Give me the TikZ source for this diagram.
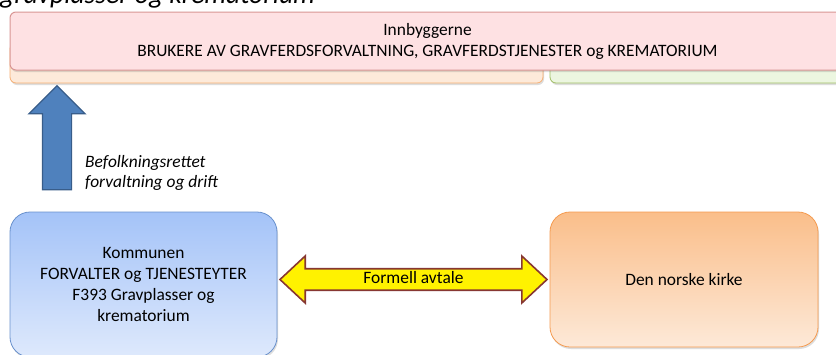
\documentclass[tikz,border=0pt]{standalone}
\usepackage{fontspec}
\setmainfont{Carlito}
\usetikzlibrary{shapes.arrows,shadows,calc}
\definecolor{pinkfill}{RGB}{254,225,227}
\definecolor{pinkdraw}{RGB}{217,150,148}
\definecolor{orbackfill}{RGB}{253,234,218}
\definecolor{orbackdraw}{RGB}{247,175,115}
\definecolor{grbackfill}{RGB}{236,246,224}
\definecolor{grbackdraw}{RGB}{160,190,100}
\definecolor{bluetop}{RGB}{164,195,248}
\definecolor{bluebot}{RGB}{222,233,252}
\definecolor{bluedraw}{RGB}{105,145,205}
\definecolor{orangetop}{RGB}{250,190,138}
\definecolor{orangebot}{RGB}{253,233,216}
\definecolor{orangedraw}{RGB}{245,155,80}
\definecolor{arrowblue}{RGB}{79,129,189}
\definecolor{arrowbluedraw}{RGB}{56,93,138}
\definecolor{avtaledraw}{RGB}{135,55,50}
\tikzset{
  lbl/.style={font=\fontsize{17.4}{21}\selectfont, align=center, text=black},
  softshadow/.style={drop shadow={shadow xshift=1pt, shadow yshift=-2pt, opacity=0.22, fill=black!60}},
  bigbox/.style={rounded corners=20pt, line width=0.8pt, minimum width=267pt, inner sep=0pt, softshadow},
}
\begin{document}
\begin{tikzpicture}[x=1pt,y=-1pt]
\useasboundingbox (0,0) rectangle (836,354);
\clip (0,0) rectangle (836,354);
\fill[white] (0,0) rectangle (836,354);
% title (cut off at the top)
\node[anchor=base west, inner sep=0pt, font=\fontsize{27.5}{32}\selectfont\itshape] (title) at (0,3) {gravplasser og krematorium};
% back boxes
\node[draw=orbackdraw, fill=orbackfill, rounded corners=6pt, line width=0.8pt, minimum width=533pt, minimum height=40pt, inner sep=0pt, softshadow] (orback) at (276.5,63) {};
\node[draw=grbackdraw, fill=grbackfill, rounded corners=6pt, line width=0.8pt, minimum width=300pt, minimum height=40pt, inner sep=0pt, softshadow] (grback) at (700,63) {};
% citizens box
\node[draw=pinkdraw, fill=pinkfill, rounded corners=6pt, line width=1pt, minimum width=835pt, minimum height=58pt, inner sep=0pt, softshadow, lbl] (innb) at (427.5,41) {Innbyggerne\\BRUKERE AV GRAVFERDSFORVALTNING, GRAVFERDSTJENESTER og KREMATORIUM};
% municipality box
\node[bigbox, draw=bluedraw, top color=bluetop, middle color=bluetop, bottom color=bluebot, minimum height=145pt, lbl, text depth=0pt] (kom) at (143.5,284.5) {Kommunen\\FORVALTER og TJENESTEYTER\\F393 Gravplasser og\\krematorium};
% church box
\node[bigbox, draw=orangedraw, top color=orangetop, middle color=orangetop, bottom color=orangebot, minimum height=135pt, minimum width=268pt, lbl] (kirke) at (684,279.5) {Den norske kirke};
% upward arrow
\node[single arrow, rotate=90, draw=arrowbluedraw, fill=arrowblue, line width=1.2pt,
      minimum width=55pt, single arrow head extend=13.5pt, minimum height=104pt, inner xsep=0pt, inner ysep=14pt,
      single arrow tip angle=90] (up) at (57,145) {};
\node[anchor=west, align=left, inner sep=0pt, font=\fontsize{17.4}{20}\selectfont\itshape] (befolk) at (85,173) {Befolkningsrettet\\forvaltning og drift};
% formal agreement arrow
\node[double arrow, draw=avtaledraw, fill=yellow, line width=1.6pt,
      minimum width=47pt, double arrow head extend=10.5pt, minimum height=267pt, inner xsep=0pt, inner ysep=0pt,
      double arrow tip angle=86, lbl, text height=12pt, text depth=4pt] (avtale) at ($(kom.east|-kirke.west)!0.5!(kirke.west)+(0,0)$) {Formell avtale};
\end{tikzpicture}
\end{document}
